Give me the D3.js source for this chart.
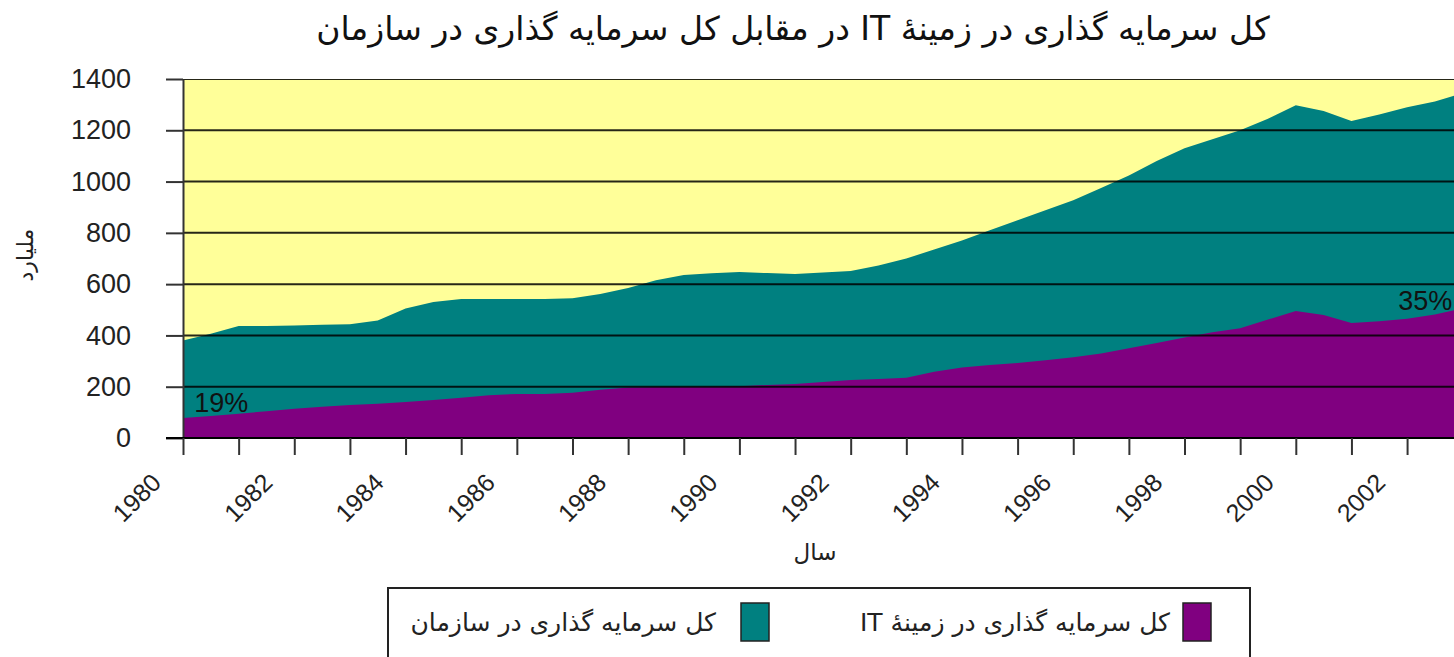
<!DOCTYPE html>
<html><head><meta charset="utf-8">
<script src="https://cdn.jsdelivr.net/npm/d3@7/dist/d3.min.js"></script>
<style>body{margin:0;background:#fff}svg{display:block}</style>
</head><body>
<svg id="chart" width="1454" height="657"></svg>
<script>
const years = [1980,1980.5,1981,1981.5,1982,1982.5,1983,1983.5,1984,1984.5,1985,1985.5,1986,1986.5,1987,1987.5,1988,1988.5,1989,1989.5,1990,1990.5,1991,1991.5,1992,1992.5,1993,1993.5,1994,1994.5,1995,1995.5,1996,1996.5,1997,1997.5,1998,1998.5,1999,1999.5,2000,2000.5,2001,2001.5,2002,2002.5,2003];
const totalInvest = [380,407,437,437,439,442,444,458,505,530,542,542,542,542,545,562,585,615,636,642,647,643,640,645,651,673,700,735,770,810,849,888,927,975,1024,1080,1130,1165,1200,1245,1298,1275,1236,1262,1290,1312,1345];
const itInvest = [78,86,95,104,114,122,129,134,140,148,157,167,172,172,176,188,197,199,199,200,202,207,211,218,226,230,235,258,275,285,292,303,315,330,350,370,392,412,428,462,495,480,448,455,465,482,505];
const yTicks = [0,200,400,600,800,1000,1200,1400];
const xTickYears = d3.range(1980, 2004);
const xLabelYears = [1980,1982,1984,1986,1988,1990,1992,1994,1996,1998,2000,2002];
const titleText = "کل سرمایه گذاری در زمینۀ IT در مقابل کل سرمایه گذاری در سازمان";
const yTitle = "ملیارد";
const xTitle = "سال";
const seriesNames = ["کل سرمایه گذاری در سازمان", "کل سرمایه گذاری در زمینۀ IT"];
const seriesColors = ["#008080", "#800080"];
const startPct = "19%", endPct = "35%";

const svg = d3.select("#chart");
const W = 1454;
const x = d3.scaleLinear().domain([1980, 2003]).range([183, 183 + 23 * 55.64]);
const y = d3.scaleLinear().domain([0, 1400]).range([438, 79]);
const plotL = x(1980), plotR = W, plotT = y(1400), plotB = y(0);

svg.append("defs").append("clipPath").attr("id", "clip")
  .append("rect").attr("x", plotL).attr("y", plotT).attr("width", plotR - plotL).attr("height", plotB - plotT);

// plot background
svg.append("rect").attr("x", plotL).attr("y", plotT).attr("width", plotR - plotL).attr("height", plotB - plotT)
  .attr("fill", "#FFFF99");

const g = svg.append("g").attr("clip-path", "url(#clip)");
const area = d3.area().x(d => x(d[0])).y0(y(0)).y1(d => y(d[1]));
g.append("path").datum(years.map((yr, i) => [yr, totalInvest[i]])).attr("d", area).attr("fill", seriesColors[0]);
g.append("path").datum(years.map((yr, i) => [yr, itInvest[i]])).attr("d", area).attr("fill", seriesColors[1]);

// gridlines over fills
g.selectAll("line.grid").data(yTicks.filter(v => v > 0)).join("line").attr("class", "grid")
  .attr("x1", plotL).attr("x2", plotR).attr("y1", d => y(d)).attr("y2", d => y(d))
  .attr("stroke", "#000").attr("stroke-opacity", 0.85).attr("stroke-width", 2);

// y axis
const yAxis = svg.append("g").attr("transform", `translate(${plotL},0)`)
  .call(d3.axisLeft(y).tickValues(yTicks).tickSize(17).tickSizeOuter(0).tickPadding(35).tickFormat(d3.format("d")));
yAxis.select(".domain").attr("stroke", "#333").attr("stroke-width", 2);
yAxis.selectAll(".tick line").attr("stroke", "#333").attr("stroke-width", 2);
yAxis.selectAll(".tick text").attr("font-family", "Liberation Sans, Arial, sans-serif").attr("font-size", 27).attr("fill", "#222");

// x axis
const xAxis = svg.append("g").attr("transform", `translate(0,${plotB})`)
  .call(d3.axisBottom(x).tickValues(xTickYears).tickSize(17).tickSizeOuter(0).tickFormat(d => xLabelYears.includes(d) ? d : ""));
xAxis.select(".domain").attr("stroke", "#000").attr("stroke-width", 2).attr("d", `M${plotL - 17},0H${plotR}`);
xAxis.selectAll(".tick line").attr("stroke", "#333").attr("stroke-width", 2);
xAxis.selectAll(".tick text")
  .attr("font-family", "Liberation Sans, Arial, sans-serif").attr("font-size", 25).attr("fill", "#222")
  .attr("text-anchor", "end").attr("x", 0).attr("y", 0).attr("dy", "0.35em")
  .attr("transform", "translate(-27,40) rotate(-45)");

// titles
svg.append("text").attr("x", 793).attr("y", 40).attr("text-anchor", "middle")
  .attr("font-family", "DejaVu Sans, sans-serif").attr("font-size", 33).attr("fill", "#111")
  .attr("direction", "rtl").text(titleText);
svg.append("text").attr("transform", "translate(25,255) rotate(-90)").attr("text-anchor", "middle")
  .attr("dy", "0.35em").attr("font-family", "DejaVu Sans, sans-serif").attr("font-size", 22).attr("fill", "#222").text(yTitle);
svg.append("text").attr("x", 815).attr("y", 560).attr("text-anchor", "middle")
  .attr("font-family", "DejaVu Sans, sans-serif").attr("font-size", 23).attr("fill", "#222").text(xTitle);

// percentage annotations
svg.append("text").attr("x", x(1980.2)).attr("y", y(100)).attr("font-family", "Liberation Sans, Arial, sans-serif")
  .attr("font-size", 27).attr("fill", "#111").text(startPct);
svg.append("text").attr("x", x(2001.84)).attr("y", y(500)).attr("font-family", "Liberation Sans, Arial, sans-serif")
  .attr("font-size", 27).attr("fill", "#111").text(endPct);

// legend
const lg = svg.append("g");
lg.append("rect").attr("x", 388).attr("y", 588).attr("width", 862).attr("height", 80)
  .attr("fill", "#fff").attr("stroke", "#222").attr("stroke-width", 2);
const legendItems = [
  {name: seriesNames[0], color: seriesColors[0], sx: 741, tx: 716},
  {name: seriesNames[1], color: seriesColors[1], sx: 1183, tx: 1170}
];
legendItems.forEach(it => {
  lg.append("rect").attr("x", it.sx).attr("y", 603).attr("width", 28).attr("height", 38)
    .attr("fill", it.color).attr("stroke", "#222").attr("stroke-width", 1.5);
  lg.append("text").attr("x", it.tx).attr("y", 622).attr("dy", "0.35em").attr("text-anchor", "start")
    .attr("direction", "rtl").attr("font-family", "DejaVu Sans, sans-serif").attr("font-size", 25).attr("fill", "#222")
    .text(it.name);
});
</script>
</body></html>
